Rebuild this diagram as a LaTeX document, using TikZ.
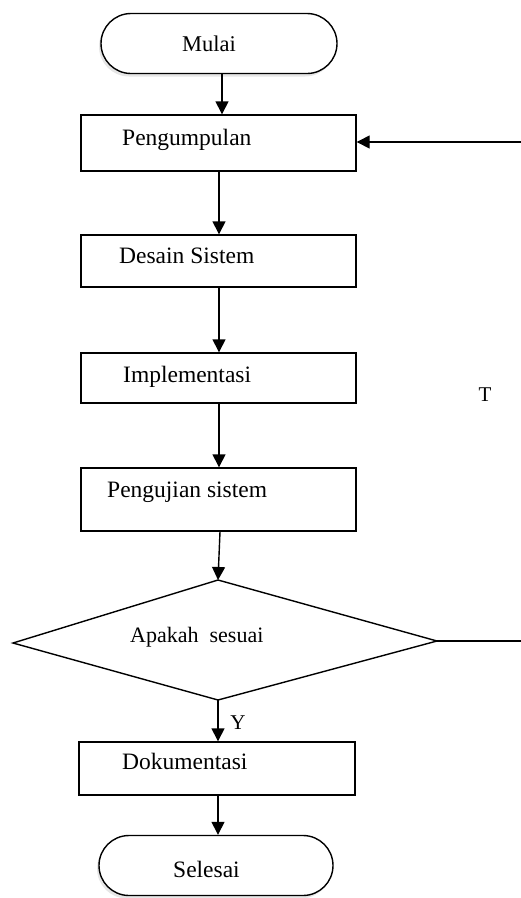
\documentclass[tikz,border=0pt]{standalone}
\usepackage{fontspec}
\setmainfont{Liberation Serif}
\usetikzlibrary{arrows.meta,shapes.misc,shadows}
\begin{document}
\begin{tikzpicture}[x=1pt,y=-1pt,
  box/.style={draw,line width=1.4pt,minimum width=275pt,minimum height=#1,inner sep=0pt},
  term/.style={draw,line width=1.4pt,rounded rectangle,minimum width=#1,minimum height=60pt,inner sep=0pt,fill=white,
     drop shadow={shadow xshift=-2pt,shadow yshift=-3pt,opacity=0.2}},
  lbl/.style={anchor=base west,inner sep=0pt,font=\fontsize{23.5}{27}\selectfont},
  tag/.style={anchor=center,inner sep=0pt,font=\fontsize{21}{25}\selectfont},
  arr/.style={line width=1.4pt,-{Triangle[length=13pt,width=13pt]}},
  ln/.style={line width=1.4pt}
]
\useasboundingbox (0,0) rectangle (521,898);
% terminators
\node[term=236pt] (mulai) at (219,43.5) {};
\node[term=234pt] (selesai) at (216,865.5) {};
% process boxes
\node[box=56pt] (p1) at (218.5,143) {};
\node[box=52pt] (p2) at (218.5,261) {};
\node[box=50pt] (p3) at (218.5,378) {};
\node[box=63pt] (p4) at (218.5,499.5) {};
\node[box=53pt,minimum width=276pt] (p5) at (217,768.5) {};
% decision
\coordinate (dt) at (218,580);
\coordinate (dl) at (13,643);
\coordinate (db) at (218,700);
\coordinate (dr) at (437,641);
\draw[ln,line join=miter] (dt) -- (dr) -- (db) -- (dl) -- cycle;
% free ends
\coordinate (in) at (521,142);
\coordinate (out) at (521,641);
% labels
\node[lbl,font=\fontsize{22.5}{26}\selectfont] (tm) at (182,51) {Mulai};
\node[lbl] (t1) at (122,145) {Pengumpulan};
\node[lbl] (t2) at (119,263) {Desain Sistem};
\node[lbl] (t3) at (123,382) {Implementasi};
\node[lbl] (t4) at (107,497) {Pengujian sistem};
\node[lbl,font=\fontsize{22}{26}\selectfont] (td) at (130,642) {Apakah\ \ sesuai};
\node[lbl] (t5) at (122,769) {Dokumentasi};
\node[lbl] (ts) at (173,877) {Selesai};
\node[tag] (tT) at (485,395) {T};
\node[tag] (tY) at (238,723) {Y};
% connectors
\draw[arr] (mulai.south -| 222,0) -- (p1.north -| 222,0);
\draw[arr] (in) -- (in -| p1.east);
\draw[arr] (p1.south -| 219,0) -- (p2.north -| 219,0);
\draw[arr] (p2.south -| 219,0) -- (p3.north -| 219,0);
\draw[arr] (p3.south -| 219,0) -- (p4.north -| 219,0);
\draw[arr] (p4.south -| 220,0) -- (dt);
\draw[ln] (dr) -- (out);
\draw[arr] (db) -- (db |- p5.north);
\draw[arr] (p5.south -| 218,0) -- (selesai.north -| 218,0);
\end{tikzpicture}
\end{document}
